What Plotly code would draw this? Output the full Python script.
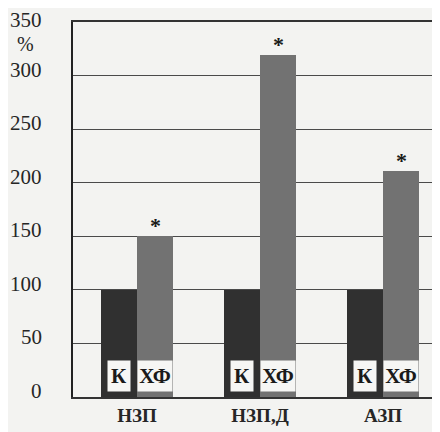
import plotly.graph_objects as go

categories = ["НЗП", "НЗП,Д", "АЗП"]
series_names = ["К", "ХФ"]
k_values = [100, 100, 100]
hf_values = [150, 319, 211]
significance = ["*", "*", "*"]
y_ticks = [0, 50, 100, 150, 200, 250, 300, 350]
y_unit = "%"

BG = "#f3f3f1"
DARK = "#303030"
GRAY = "#727272"
TXT = "#262626"
GRID = "#4a4a4a"
SERIF = "Liberation Serif, Times New Roman, serif"

xs = list(range(len(categories)))
W = 0.295

fig = go.Figure()
fig.add_trace(go.Bar(x=xs, y=k_values, name=series_names[0], width=W, offset=-W,
                     marker=dict(color=DARK, line=dict(width=0))))
fig.add_trace(go.Bar(x=xs, y=hf_values, name=series_names[1], width=W, offset=0,
                     marker=dict(color=GRAY, line=dict(width=0))))

ann = []
for i in xs:
    ann.append(dict(x=i - W / 2, y=20, xref="x", yref="y", text="<b>%s</b>" % series_names[0],
                    showarrow=False, font=dict(family=SERIF, size=21, color="#1a1a1a"),
                    bgcolor="#f6f6f4", borderpad=0, width=22, height=30))
    ann.append(dict(x=i + W / 2, y=20, xref="x", yref="y", text="<b>%s</b>" % series_names[1],
                    showarrow=False, font=dict(family=SERIF, size=21, color="#1a1a1a"),
                    bgcolor="#f6f6f4", borderpad=0, width=34, height=30))
    ann.append(dict(x=i + W / 2, y=hf_values[i], xref="x", yref="y", text="<b>%s</b>" % significance[i],
                    showarrow=False, yanchor="bottom", yshift=-4,
                    font=dict(family=SERIF, size=22, color="#1a1a1a")))
top_tick = max(y_ticks)
for v in y_ticks:
    ann.append(dict(x=0, y=v, xref="paper", yref="y", text=str(v), showarrow=False,
                    xanchor="right", yanchor="middle", xshift=-30,
                    yshift=(6 if v < top_tick else 2), borderpad=0,
                    font=dict(family=SERIF, size=21, color=TXT)))
ann.append(dict(x=(25 - 73) / 367, y=(397 - 44) / 375, xref="paper", yref="paper",
                xanchor="center", yanchor="middle", text=y_unit, showarrow=False,
                font=dict(family=SERIF, size=20, color=TXT)))

fig.update_layout(
    width=432, height=424,
    margin=dict(l=65, r=0, t=14, b=35),
    paper_bgcolor=BG, plot_bgcolor=BG,
    showlegend=False,
    bargap=0,
    annotations=ann,
    xaxis=dict(range=[-0.52, 2.463], tickvals=xs,
               ticktext=["<b>%s</b>" % c for c in categories],
               tickfont=dict(family=SERIF, size=19, color=TXT),
               showgrid=False, zeroline=False, showline=True, mirror=True,
               linecolor="#333", linewidth=1.5,
               ticks="", ticklabelstandoff=0),
    yaxis=dict(range=[0, 350], tickvals=y_ticks, showticklabels=False,
               showgrid=True, gridcolor=GRID, gridwidth=1.3,
               zeroline=False, showline=True, linecolor="#222", linewidth=1.5,
               ticks=""),
)

fig.write_html("out.html")
